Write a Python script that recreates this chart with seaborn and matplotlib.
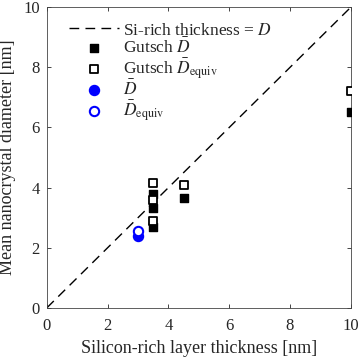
import matplotlib
matplotlib.use("Agg")
import matplotlib.pyplot as plt
import numpy as np
import pandas as pd
import seaborn as sns

# reference line (layer thickness = diameter)
line_x = [0, 10]
line_y = [0, 10]

# Gutsch data
gutsch_x = [3.5, 3.5, 3.5, 4.5, 10]
gutsch_d = [3.77, 3.32, 2.69, 3.66, 6.5]
gutsch_x_eq = [3.5, 3.5, 3.5, 4.5, 10]
gutsch_d_eq = [4.16, 3.6, 2.88, 4.07, 7.2]

# this work
own_x = [3.0]
own_d = [2.38]
own_d_eq = [2.55]

sns.set_theme(style="ticks")
plt.rcParams["font.family"] = ["Liberation Serif", "DejaVu Serif"]
plt.rcParams["mathtext.fontset"] = "stix"
plt.rcParams["xtick.direction"] = "in"
plt.rcParams["ytick.direction"] = "in"

fig, ax = plt.subplots(figsize=(3.58, 3.60), dpi=100)
fig.subplots_adjust(left=0.131, right=0.980, bottom=0.145, top=0.980)

sns.lineplot(x=line_x, y=line_y, ax=ax, color="black", lw=1.0,
             linestyle=(0, (7, 4.5)), label=r"Si-rich thickness = $D$")
sns.scatterplot(x=gutsch_x, y=gutsch_d, ax=ax, marker="s", s=36,
                color="black", edgecolor="black", linewidth=1,
                label=r"Gutsch $\bar{D}$", zorder=3)
sns.scatterplot(x=gutsch_x_eq, y=gutsch_d_eq, ax=ax, marker="s", s=36,
                facecolor="white", edgecolor="black", linewidth=1.3,
                label=r"Gutsch $\bar{D}_{\mathrm{equiv}}$", zorder=4)
sns.scatterplot(x=own_x, y=own_d, ax=ax, marker="o", s=52,
                color="blue", edgecolor="blue", linewidth=1,
                label=r"$\bar{D}$", zorder=3)
sns.scatterplot(x=own_x, y=own_d_eq, ax=ax, marker="o", s=45,
                facecolor="white", edgecolor="blue", linewidth=1.5,
                label=r"$\bar{D}_{\mathrm{equiv}}$", zorder=4)

ax.set_xlim(0, 10)
ax.set_ylim(0, 10)
ax.set_xticks(np.arange(0, 11, 2))
ax.set_yticks(np.arange(0, 11, 2))
ax.tick_params(top=True, right=True, labelsize=12, length=3, width=0.6)
ax.tick_params(axis="x", pad=7)
ax.tick_params(axis="y", pad=5)
for sp in ax.spines.values():
    sp.set_linewidth(0.6)
    sp.set_color("#444444")
ax.set_xlabel("Silicon-rich layer thickness [nm]", fontsize=13, labelpad=5)
ax.set_ylabel("Mean nanocrystal diameter [nm]", fontsize=13, labelpad=5)

ax.legend(loc="upper left", bbox_to_anchor=(0.032, 0.99), frameon=False,
          fontsize=12.5, handlelength=2.9, borderaxespad=0.3,
          labelspacing=-0.05, handletextpad=0.2)

fig.savefig("out.png", dpi=100)
